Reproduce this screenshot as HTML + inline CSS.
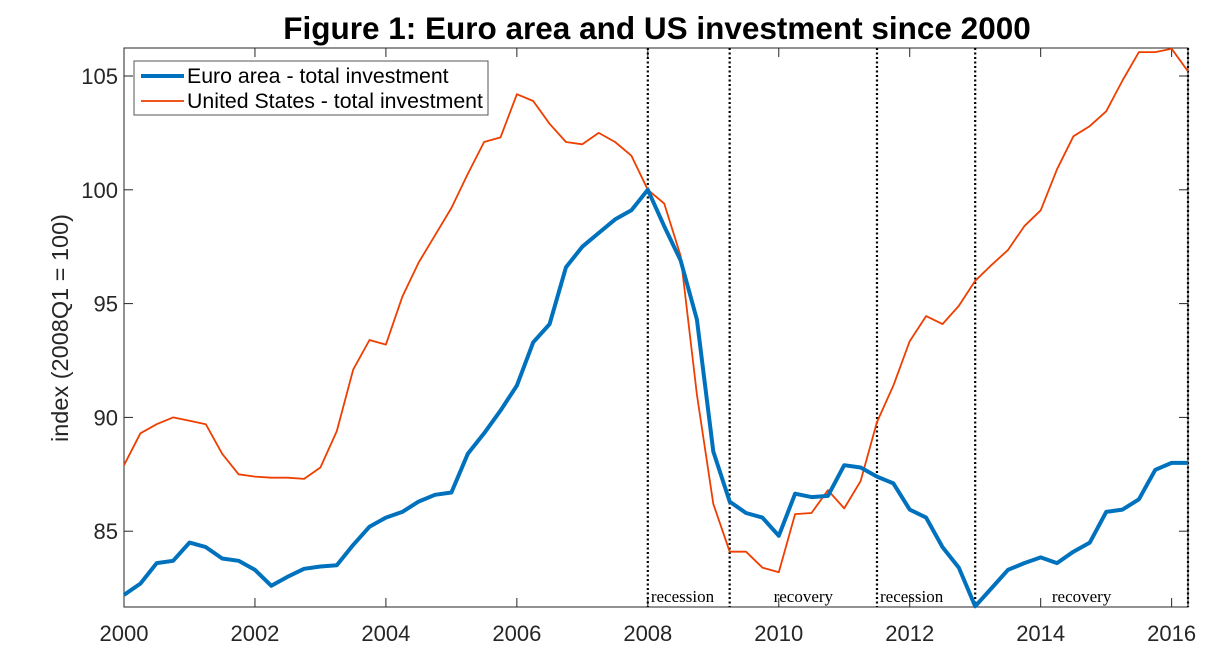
<!DOCTYPE html>
<html><head><meta charset="utf-8"><style>
body{margin:0;background:#fff;}
svg{display:block;font-family:"Liberation Sans",sans-serif;}
</style></head><body>
<svg id="chart" width="1231" height="672" viewBox="0 0 1231 672">
<text x="657" y="39" text-anchor="middle" font-size="31.5" font-weight="bold">Figure 1: Euro area and US investment since 2000</text>
<text transform="translate(68,328) rotate(-90)" text-anchor="middle" font-size="23.5" fill="#262626">index (2008Q1 = 100)</text>
<g id="axes"></g>
<g id="marks"></g>
<g>
<rect x="134" y="61" width="354" height="54" fill="#fff" stroke="#555" stroke-width="1"/>
<line x1="141" y1="76" x2="184" y2="76" stroke="#0072BD" stroke-width="4"/>
<text x="187" y="83" font-size="21.3">Euro area - total investment</text>
<line x1="141" y1="101" x2="184" y2="101" stroke="#EE3F00" stroke-width="1.8"/>
<text x="187" y="108" font-size="21.3">United States - total investment</text>
</g>
</svg>
<script>
const euro=[82.2,82.7,83.6,83.7,84.5,84.3,83.8,83.7,83.3,82.6,83.0,83.35,83.45,83.5,84.4,85.2,85.6,85.85,86.3,86.6,86.7,88.4,89.3,90.3,91.4,93.3,94.1,96.6,97.5,98.1,98.7,99.1,100,98.4,96.9,94.3,88.5,86.3,85.8,85.6,84.8,86.65,86.5,86.55,87.9,87.8,87.4,87.1,85.95,85.6,84.3,83.4,81.7,82.5,83.3,83.6,83.85,83.6,84.1,84.5,85.85,85.95,86.4,87.7,88.0,88.0];
const us=[87.9,89.3,89.7,90.0,89.85,89.7,88.4,87.5,87.4,87.35,87.35,87.3,87.8,89.4,92.1,93.4,93.2,95.3,96.8,98.0,99.2,100.7,102.1,102.3,104.2,103.9,102.9,102.1,102.0,102.5,102.1,101.5,100.0,99.4,97.1,91.0,86.2,84.1,84.1,83.4,83.2,85.75,85.8,86.8,86.0,87.2,89.8,91.4,93.35,94.45,94.1,94.9,96.0,96.7,97.35,98.4,99.1,100.9,102.35,102.8,103.45,104.8,106.05,106.05,106.2,105.2];
const startYear=2000;
const xTicks=[2000,2002,2004,2006,2008,2010,2012,2014,2016];
const yTicks=[85,90,95,100,105];
const phaseBounds=[2008.0,2009.25,2011.5,2013.0,2016.25];
const phaseLabels=["recession","recovery","recession","recovery"];
const X0=124,X1=1188,Y0=48,Y1=607,xmin=2000,xmax=2016.25,ymin=81.67,ymax=106.23;
const sx=v=>X0+(v-xmin)/(xmax-xmin)*(X1-X0);
const sy=v=>Y1-(v-ymin)/(ymax-ymin)*(Y1-Y0);
const NS="http://www.w3.org/2000/svg";
const axes=document.getElementById('axes'),marks=document.getElementById('marks');
function mk(t,a,p){const e=document.createElementNS(NS,t);for(const k in a)e.setAttribute(k,a[k]);p.appendChild(e);return e;}
const box=mk('rect',{x:X0,y:Y0,width:X1-X0,height:Y1-Y0,fill:'none',stroke:'#262626','stroke-width':1},axes);


xTicks.forEach(t=>{const x=sx(t);
mk('line',{x1:x,x2:x,y1:Y1,y2:Y1-9,stroke:'#262626'},axes);
mk('line',{x1:x,x2:x,y1:Y0,y2:Y0+9,stroke:'#262626'},axes);
const tx=mk('text',{x:x,y:641,'text-anchor':'middle','font-size':22,fill:'#262626'},axes);tx.textContent=t;

});
yTicks.forEach(t=>{const y=sy(t);
mk('line',{x1:X0,x2:X0+9,y1:y,y2:y,stroke:'#262626'},axes);
mk('line',{x1:X1,x2:X1-9,y1:y,y2:y,stroke:'#262626'},axes);
const tx=mk('text',{x:X0-6,y:y+8,'text-anchor':'end','font-size':22,fill:'#262626'},axes);tx.textContent=t;

});
phaseBounds.forEach(b=>{const x=sx(b);const l=mk('line',{x1:x,x2:x,y1:Y0,y2:Y1,stroke:'#000','stroke-width':2.2,'stroke-dasharray':'2,2.5'},marks);

});
phaseLabels.forEach((s,i)=>{const a=sx(phaseBounds[i]),b=sx(phaseBounds[i+1]);
const rec=s==='recession';
const tx=mk('text',{x:rec?a+3:(a+b)/2,y:602,'text-anchor':rec?'start':'middle','font-size':17,'font-family':'Liberation Serif,serif'},marks);
tx.textContent=s;

});
function line(data,color,w,name){const pts=data.map((v,i)=>sx(startYear+i/4).toFixed(1)+','+sy(v).toFixed(1)).join(' ');
const p=mk('polyline',{points:pts,fill:'none',stroke:color,'stroke-width':w,'stroke-linejoin':'round'},marks);

}
line(us,'#EE3F00',1.8,'us-investment-line');
line(euro,'#0072BD',4,'euro-investment-line');
</script>
</body></html>
